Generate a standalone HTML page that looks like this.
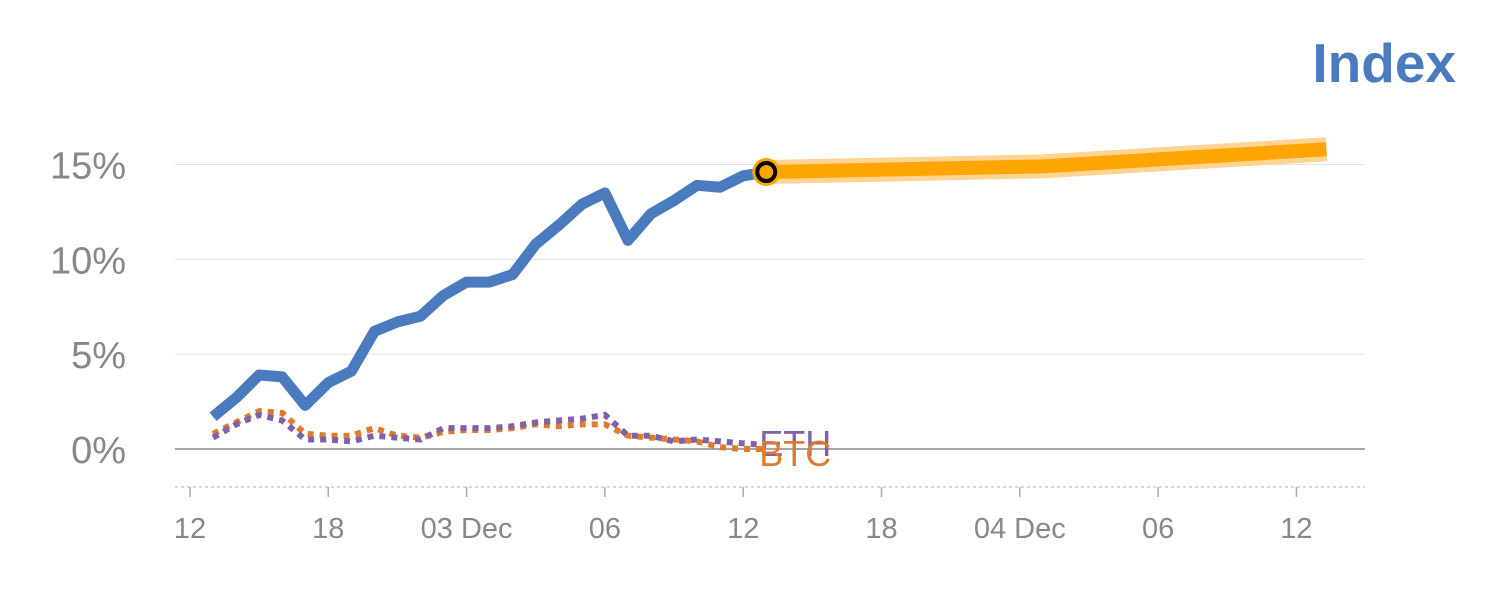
<!DOCTYPE html>
<html><head><meta charset="utf-8"><style>
body{margin:0;background:#fff;font-family:"Liberation Sans",sans-serif}
</style></head><body>
<svg id="chart" width="1500" height="600" xmlns="http://www.w3.org/2000/svg">
<text x="1456" y="82" text-anchor="end" font-size="55" font-weight="bold" fill="#4a7bbf" font-family="Liberation Sans">Index</text>
<g id="grid"></g><g id="series"></g>
</svg>
<script>
const yTicks=[0,5,10,15];
const xTickHours=[12,18,24,30,36,42,48,54,60];
const xTickLabels=["12","18","03 Dec","06","12","18","04 Dec","06","12"];
const histStart=13;
const indexVals=[1.7,2.7,3.9,3.8,2.3,3.5,4.1,6.2,6.7,7.0,8.1,8.8,8.8,9.2,10.8,11.8,12.9,13.5,11.0,12.4,13.1,13.9,13.8,14.4,14.6];
const ethVals=[0.6,1.3,1.8,1.5,0.5,0.5,0.4,0.7,0.6,0.5,1.1,1.1,1.1,1.2,1.4,1.5,1.6,1.8,0.7,0.7,0.4,0.5,0.4,0.3,0.2];
const btcVals=[0.8,1.4,2.0,1.9,0.8,0.7,0.7,1.1,0.7,0.6,0.9,1.0,1.0,1.1,1.3,1.2,1.3,1.3,0.7,0.6,0.5,0.4,0.1,0.0,0.0];
const fcHours=[37,49,61.3];
const fcVals=[14.6,14.9,15.8];

const NS="http://www.w3.org/2000/svg";
const X=h=>190+(h-12)*23.05;
const Y=v=>449-v*18.97;
const grid=document.getElementById('grid'),ser=document.getElementById('series');
function mk(tag,attrs,parent){const e=document.createElementNS(NS,tag);for(const k in attrs)e.setAttribute(k,attrs[k]);parent.appendChild(e);return e;}
yTicks.forEach(v=>{
 const l=mk('line',{x1:175,x2:1365,y1:Y(v),y2:Y(v),stroke:v===0?'#888':'#e4e4e4','stroke-width':v===0?1.5:1},grid);
 
 
 const t=mk('text',{x:126,y:Y(v)+14,'text-anchor':'end','font-size':38,fill:'#888'},grid);
 t.textContent=v+'%';
 
 
});
const ax=mk('line',{x1:175,x2:1365,y1:487,y2:487,stroke:'#ccc','stroke-width':1.5,'stroke-dasharray':'3,3'},grid);


xTickHours.forEach((h,i)=>{
 const l=mk('line',{x1:X(h),x2:X(h),y1:487,y2:497,stroke:'#aaa','stroke-width':1.5},grid);
 
 
 const t=mk('text',{x:X(h),y:538,'text-anchor':'middle','font-size':29,fill:'#888'},grid);
 t.textContent=xTickLabels[i];
 
 
});
function pts(vals){return vals.map((v,i)=>X(histStart+i)+','+Y(v)).join(' ');}
const fcPts=fcHours.map((h,i)=>X(h)+','+Y(fcVals[i])).join(' ');
const f1=mk('polyline',{points:fcPts,fill:'none',stroke:'#ffd391','stroke-width':24,'stroke-linejoin':'round'},ser);


const f2=mk('polyline',{points:fcPts,fill:'none',stroke:'#ffa500','stroke-width':14,'stroke-linejoin':'round'},ser);


const b=mk('polyline',{points:pts(btcVals),fill:'none',stroke:'#e07b2e','stroke-width':6,'stroke-dasharray':'6,6'},ser);


const e=mk('polyline',{points:pts(ethVals),fill:'none',stroke:'#8060a8','stroke-width':6,'stroke-dasharray':'6,6'},ser);


const ix=mk('polyline',{points:pts(indexVals),fill:'none',stroke:'#4a7bbf','stroke-width':11,'stroke-linejoin':'round'},ser);


const last=indexVals.length-1;
const c=mk('circle',{cx:X(histStart+last),cy:Y(indexVals[last]),r:14,fill:'#ffa500'},ser);


const c2=mk('circle',{cx:X(histStart+last),cy:Y(indexVals[last]),r:9,fill:'none',stroke:'#000','stroke-width':4},ser);


const lx=X(histStart+last)-7;
const te=mk('text',{x:lx,y:Y(ethVals[last])+11,'font-size':36,fill:'#8060a8'},ser);
te.textContent='ETH';


const tb=mk('text',{x:lx,y:Y(btcVals[last])+17,'font-size':36,fill:'#e07b2e'},ser);
tb.textContent='BTC';


</script>
</body></html>
